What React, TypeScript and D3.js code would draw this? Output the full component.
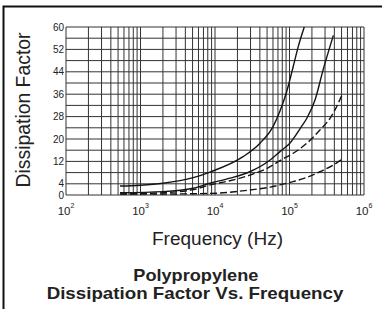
import * as d3 from 'd3';

// Frequency (Hz) / dissipation factor pairs
const solidUpper: [number, number][] = [
  [531, 3.2], [1000, 3.5], [2000, 4.2], [5100, 6.2], [8570, 8.2], [23800, 13.7],
  [40200, 18.5], [60100, 24.4], [74500, 30], [91600, 36.9], [112000, 45.8],
  [131000, 53], [158000, 60],
];
const solidLower: [number, number][] = [
  [531, 0.8], [2000, 1.2], [5100, 2.4], [8570, 4.2], [15900, 6.0], [29300, 8.3],
  [55000, 12.5], [74500, 15.5], [101000, 18.5], [141000, 24], [171000, 27.4],
  [220000, 33.9], [282000, 44.6], [388000, 57],
];
const dashedUpper: [number, number][] = [
  [531, 0.4], [2000, 0.8], [5100, 1.9], [8570, 3.6], [15900, 5.1], [29300, 7.1],
  [55000, 10.1], [74500, 12.3], [112000, 14.9], [171000, 18.5], [256000, 23.2],
  [350000, 27.4], [408000, 30.4], [502000, 35.5],
];
const dashedLower: [number, number][] = [
  [531, 0.3], [2000, 0.35], [5100, 0.45], [11700, 0.7], [15900, 1.0], [29300, 1.8],
  [55000, 2.8], [74500, 3.6], [112000, 4.8], [171000, 6.3], [256000, 8.3],
  [388000, 10.7], [527000, 13.1],
];

const decades = [2, 3, 4, 5, 6];
const yTickLabels = [0, 4, 12, 20, 28, 36, 44, 52, 60];

const font = '"Liberation Sans", Arial, Helvetica, sans-serif';

export default function App() {
  const x = d3.scaleLog().domain([1e2, 1e6]).range([66, 364]);
  const y = d3.scaleLinear().domain([0, 60]).range([195, 27]);

  // log grid: 1..9 in every decade
  const vGrid: number[] = [];
  for (let k = 2; k < 6; k++) {
    for (let m = 1; m <= 9; m++) vGrid.push(m * Math.pow(10, k));
  }
  vGrid.push(1e6);
  const hGrid = d3.range(0, 61, 4);

  const line = d3
    .line<[number, number]>()
    .x((d) => x(d[0]))
    .y((d) => y(d[1]))
    .curve(d3.curveMonotoneX);

  const series = [
    { data: solidUpper, dash: undefined },
    { data: solidLower, dash: undefined },
    { data: dashedUpper, dash: '7,3' },
    { data: dashedLower, dash: '7,3' },
  ];

  return (
    <svg
      width={382}
      height={309}
      style={{ position: 'absolute', left: 0, top: 0, background: '#fff' }}
      fontFamily={font}
    >
      {/* frame */}
      <path d="M3.5,310 V6.5 H383" fill="none" stroke="#111" strokeWidth={2} />

      {/* grid */}
      <g stroke="#333" strokeWidth={1}>
        {vGrid.map((f) => (
          <line key={'v' + f} x1={x(f)} x2={x(f)} y1={y(60)} y2={y(0)} />
        ))}
        {hGrid.map((v) => (
          <line key={'h' + v} x1={x(1e2)} x2={x(1e6)} y1={y(v)} y2={y(v)} />
        ))}
      </g>

      {/* curves */}
      {series.map((s, i) => (
        <path
          key={i}
          d={line(s.data) || ''}
          fill="none"
          stroke="#151515"
          strokeWidth={1.4}
          strokeDasharray={s.dash}
        />
      ))}

      {/* y tick labels */}
      <g fontSize={10} fill="#222" textAnchor="end">
        {yTickLabels.map((v) => (
          <text key={v} x={64} y={y(v)} dy="0.35em">
            {v}
          </text>
        ))}
      </g>

      {/* x tick labels */}
      <g fill="#222" textAnchor="middle">
        {decades.map((e) => (
          <text key={e} x={x(Math.pow(10, e))} y={215} fontSize={11.5}>
            10
            <tspan dy={-7} fontSize={7}>
              {e}
            </tspan>
          </text>
        ))}
      </g>

      {/* axis titles */}
      <text
        transform="translate(30,110) rotate(-90)"
        textAnchor="middle"
        fontSize={20}
        fill="#222"
        textLength={155}
        lengthAdjust="spacingAndGlyphs"
      >
        Dissipation Factor
      </text>
      <text
        x={217.5}
        y={244.5}
        textAnchor="middle"
        fontSize={17.5}
        fill="#222"
        textLength={131}
        lengthAdjust="spacingAndGlyphs"
      >
        Frequency (Hz)
      </text>

      {/* chart title */}
      <g fontWeight="bold" fill="#222" textAnchor="middle">
        <text x={195.8} y={281} fontSize={17} textLength={125} lengthAdjust="spacingAndGlyphs">
          Polypropylene
        </text>
        <text x={195} y={298.5} fontSize={17} textLength={296.7} lengthAdjust="spacingAndGlyphs">
          Dissipation Factor Vs. Frequency
        </text>
      </g>
    </svg>
  );
}
